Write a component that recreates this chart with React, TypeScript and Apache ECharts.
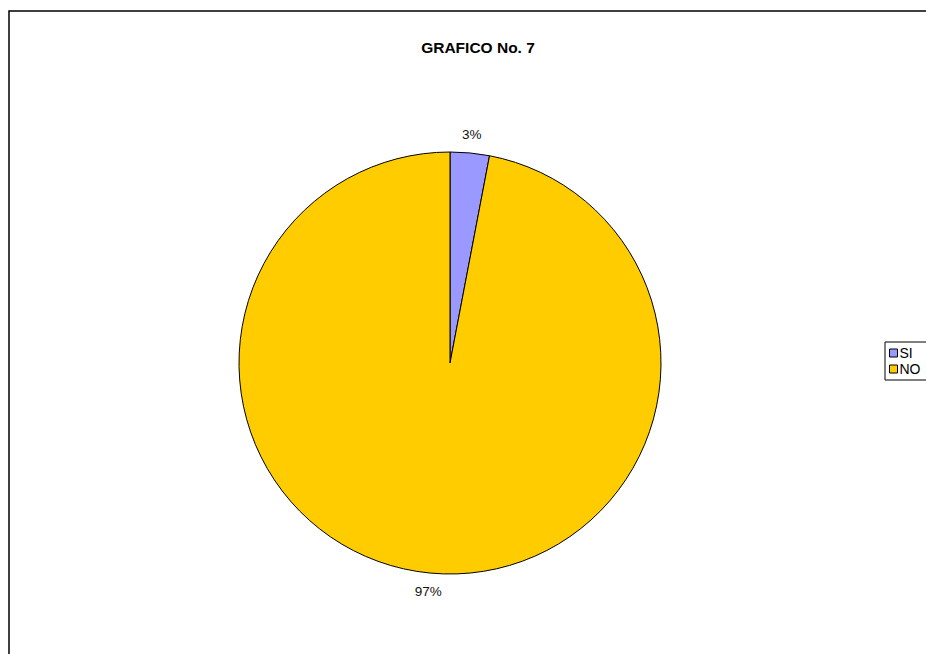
import React, { useEffect, useRef } from "react";
import * as echarts from "echarts";

const categories = ["SI", "NO"];
const values = [3, 97];
const colors = ["#9999FF", "#FFCC00"];
const titleText = "GRAFICO No. 7";

const CX = 450;
const CY = 363;
const R = 211;
const LABEL_R = 230;

export default function App() {
  const ref = useRef<HTMLDivElement>(null);
  useEffect(() => {
    if (!ref.current) return;
    const chart = echarts.init(ref.current, undefined, { renderer: "svg" });
    const total = values.reduce((a, b) => a + b, 0);
    const font = "'Liberation Sans', Arial, sans-serif";
    chart.setOption({
      animation: false,
      backgroundColor: "#fff",
      title: {
        text: titleText,
        left: 473,
        top: 34,
        textAlign: "center",
        textStyle: { fontSize: 15.5, fontWeight: "bold", color: "#000", fontFamily: font },
      },
      legend: {
        orient: "vertical",
        left: 885,
        top: 342,
        data: categories,
        icon: "rect",
        itemWidth: 8,
        itemHeight: 8,
        itemGap: 2,
        padding: [4, 30, 4, 4],
        borderColor: "#000",
        borderWidth: 1,
        textStyle: { fontSize: 14, color: "#000", fontFamily: font, padding: [0, 0, 0, -3] },
        itemStyle: { borderColor: "#000", borderWidth: 1 },
      },
      graphic: [
        {
          type: "rect",
          shape: { x: 9, y: 11, width: 1000, height: 1000 },
          style: { fill: "none", stroke: "#000", lineWidth: 1.5 },
          silent: true,
        },
      ],
      series: [
        {
          type: "pie",
          center: [CX, CY],
          radius: R,
          startAngle: 90,
          clockwise: true,
          data: categories.map((c, i) => ({
            name: c,
            value: values[i],
            itemStyle: { color: colors[i] },
          })),
          itemStyle: { borderColor: "#000", borderWidth: 1 },
          label: {
            show: true,
            position: "outside",
            formatter: (p: any) => Math.round(p.percent) + "%",
            fontSize: 13.5,
            color: "#111",
            fontFamily: font,
          },
          labelLine: { show: false },
          labelLayout: (p: any) => {
            let cum = 0;
            for (let i = 0; i < p.dataIndex; i++) cum += values[i];
            const mid = (cum + values[p.dataIndex] / 2) / total;
            const a = mid * Math.PI * 2;
            return {
              x: CX + LABEL_R * Math.sin(a),
              y: CY - LABEL_R * Math.cos(a),
              align: "center",
              verticalAlign: "middle",
            };
          },
          emphasis: { disabled: true },
        },
      ],
    });
    return () => chart.dispose();
  }, []);
  return (
    <div
      ref={ref}
      style={{ position: "absolute", left: 0, top: 0, width: 926, height: 654 }}
    />
  );
}
